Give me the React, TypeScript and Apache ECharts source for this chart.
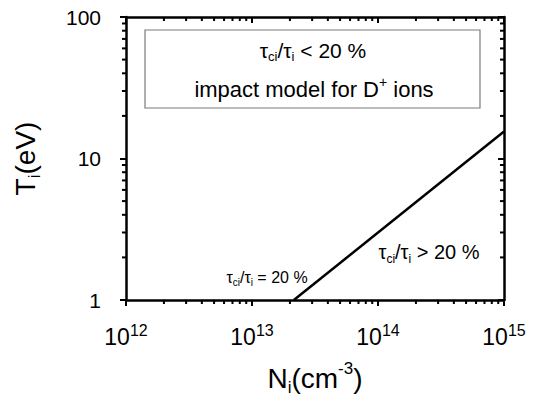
import { useEffect, useRef } from 'react';
import * as echarts from 'echarts';

// Axis ranges / ticks
const xTickExponents = [12, 13, 14, 15];
const yTickValues = [1, 10, 100];
const xMinorTicks = [
  2e12, 3e12, 4e12, 5e12, 6e12, 7e12, 8e12, 9e12,
  2e13, 3e13, 4e13, 5e13, 6e13, 7e13, 8e13, 9e13,
  2e14, 3e14, 4e14, 5e14, 6e14, 7e14, 8e14, 9e14,
];
const yMinorTicks = [2, 3, 4, 5, 6, 7, 8, 9, 20, 30, 40, 50, 60, 70, 80, 90];

// Boundary line tau_ci/tau_i = 20 %
const boundaryN = [2.15e13, 1e15];
const boundaryT = [1, 15.5];

const FONT = '"Liberation Sans", Arial, Helvetica, sans-serif';

export default function App() {
  const ref = useRef<HTMLDivElement>(null);

  useEffect(() => {
    if (!ref.current) return;
    const chart = echarts.init(ref.current, null, { renderer: 'svg' });
    const xMin = Math.pow(10, xTickExponents[0]);
    const xMax = Math.pow(10, xTickExponents[xTickExponents.length - 1]);
    const yMin = yTickValues[0];
    const yMax = yTickValues[yTickValues.length - 1];
    const xMid = Math.pow(10, xTickExponents[1]);
    const yMid = yTickValues[1];

    const axisLineStyle = { color: '#000', width: 2.5 };
    const tickStyle = { color: '#000', width: 2 };

    const subRich = (size: number, lh: number) => ({
      t: { fontSize: size, lineHeight: lh, fontFamily: FONT, color: '#000', verticalAlign: 'middle' },
      s: { fontSize: Math.round(size * 0.62), lineHeight: lh, fontFamily: FONT, color: '#000', verticalAlign: 'bottom' },
      u: { fontSize: Math.round(size * 0.62), lineHeight: lh, fontFamily: FONT, color: '#000', verticalAlign: 'top' },
    });

    const ML = 4;
    const MW = 2;
    const TC = '#000';

    const option: any = {
      animation: false,
      backgroundColor: '#fff',
      grid: { left: 126, right: 35, top: 17, bottom: 105, containLabel: false, outerBoundsMode: 'none' },
      xAxis: [
        {
          type: 'log',
          logBase: 10,
          min: xMin,
          max: xMax,
          position: 'bottom',
          name: '{t|N}{s|i}{t|(cm}{u|-3}{t|)}',
          nameLocation: 'middle',
          nameGap: 60,
          nameTextStyle: { rich: subRich(28, 36) },
          axisLine: { show: true, lineStyle: axisLineStyle },
          axisTick: { show: true, inside: false, length: 6, lineStyle: tickStyle },
          splitLine: { show: false },
          axisLabel: {
            margin: 22,
            formatter: (v: number) => `{b|10}{s|${Math.round(Math.log10(v))}}`,
            rich: {
              b: { fontSize: 23, lineHeight: 30, fontFamily: FONT, color: '#000', verticalAlign: 'middle' },
              s: { fontSize: 16, lineHeight: 30, fontFamily: FONT, color: '#000', verticalAlign: 'top' },
            },
          },
        },
        {
          type: 'log',
          logBase: 10,
          min: xMin,
          max: xMax,
          position: 'top',
          axisLine: { show: true, lineStyle: axisLineStyle },
          axisTick: { show: true, inside: true, length: 6, lineStyle: tickStyle },
          axisLabel: { show: false },
          splitLine: { show: false },
        },
      ],
      yAxis: [
        {
          type: 'log',
          logBase: 10,
          min: yMin,
          max: yMax,
          position: 'left',
          name: '{t|T}{s|i}{t|(eV)}',
          nameLocation: 'middle',
          nameRotate: 90,
          nameGap: 83,
          nameTextStyle: { rich: subRich(28, 36) },
          axisLine: { show: true, lineStyle: axisLineStyle },
          axisTick: { show: true, inside: false, length: 6, lineStyle: tickStyle },
          splitLine: { show: false },
          axisLabel: {
            margin: 25,
            fontSize: 21,
            fontFamily: FONT,
            color: '#000',
            formatter: (v: number) => String(Math.round(v)),
          },
        },
        {
          type: 'log',
          logBase: 10,
          min: yMin,
          max: yMax,
          position: 'right',
          axisLine: { show: true, lineStyle: axisLineStyle },
          axisTick: { show: true, inside: true, length: 6, lineStyle: tickStyle },
          axisLabel: { show: false },
          splitLine: { show: false },
        },
      ],
      series: [
        {
          type: 'line',
          xAxisIndex: 0,
          yAxisIndex: 0,
          data: boundaryN.map((n, i) => [n, boundaryT[i]]),
          symbol: 'none',
          lineStyle: { color: '#000', width: 2.5 },
          silent: true,
        },
        {
          type: 'custom',
          xAxisIndex: 0,
          yAxisIndex: 0,
          silent: true,
          z: 10,
          data: xMinorTicks.map((v) => [v, yMid]),
          renderItem: (_p: any, api: any) => {
            const v = api.value(0);
            const b = api.coord([v, yMin]);
            const t = api.coord([v, yMax]);
            return {
              type: 'group',
              children: [
                { type: 'rect', shape: { x: b[0] - MW / 2, y: b[1], width: MW, height: ML }, style: { fill: TC } },
                { type: 'rect', shape: { x: t[0] - MW / 2, y: t[1], width: MW, height: ML }, style: { fill: TC } },
              ],
            };
          },
        },
        {
          type: 'custom',
          xAxisIndex: 0,
          yAxisIndex: 0,
          silent: true,
          z: 10,
          data: yMinorTicks.map((v) => [xMid, v]),
          renderItem: (_p: any, api: any) => {
            const v = api.value(1);
            const l = api.coord([xMin, v]);
            const r = api.coord([xMax, v]);
            return {
              type: 'group',
              children: [
                { type: 'rect', shape: { x: l[0] - ML, y: l[1] - MW / 2, width: ML, height: MW }, style: { fill: TC } },
                { type: 'rect', shape: { x: r[0] - ML, y: r[1] - MW / 2, width: ML, height: MW }, style: { fill: TC } },
              ],
            };
          },
        },
      ],
      graphic: [
        {
          type: 'rect',
          shape: { x: 145, y: 30, width: 335, height: 78 },
          style: { fill: 'none', stroke: '#7a7a7a', lineWidth: 1.2 },
          silent: true,
        },
        {
          type: 'text',
          x: 313,
          y: 50,
          style: {
            text: '{t|τ}{s|ci}{t|/τ}{s|i}{t| < 20 %}',
            rich: subRich(21, 26),
            align: 'center',
            verticalAlign: 'middle',
          },
        },
        {
          type: 'text',
          x: 314,
          y: 89,
          style: {
            text: '{t|impact model for D}{u|+}{t| ions}',
            rich: subRich(22, 28),
            align: 'center',
            verticalAlign: 'middle',
          },
        },
        {
          type: 'text',
          x: 429,
          y: 252,
          style: {
            text: '{t|τ}{s|ci}{t|/τ}{s|i}{t| > 20 %}',
            rich: subRich(20, 25),
            align: 'center',
            verticalAlign: 'middle',
          },
        },
        {
          type: 'text',
          x: 267,
          y: 277,
          style: {
            text: '{t|τ}{s|ci}{t|/τ}{s|i}{t| = 20 %}',
            rich: subRich(16, 21),
            align: 'center',
            verticalAlign: 'middle',
          },
        },
      ],
    };

    chart.setOption(option);
    return () => chart.dispose();
  }, []);

  return <div ref={ref} style={{ width: 539, height: 405, position: 'absolute', left: 0, top: 0 }} />;
}
